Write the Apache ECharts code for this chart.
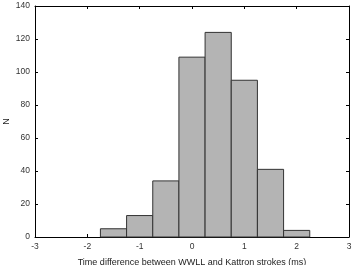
<!DOCTYPE html>
<html>
<head>
<meta charset="utf-8">
<script src="https://cdn.jsdelivr.net/npm/echarts@6/dist/echarts.min.js"></script>
<style>
  html, body { margin: 0; padding: 0; background: #fff; }
  #chart { width: 354px; height: 265px; }
</style>
</head>
<body>
<div id="chart"></div>
<script>
// bin edges (ms) and counts
var binStarts = [-1.75, -1.25, -0.75, -0.25, 0.25, 0.75, 1.25, 1.75];
var binWidth = 0.5;
var counts = [5, 13, 34, 109, 124, 95, 41, 4];

var xTitle = 'Time difference between WWLL and Kattron strokes (ms)';
var yTitle = 'N';

var chart = echarts.init(document.getElementById('chart'));

var data = binStarts.map(function (s, i) {
    return [s, s + binWidth, counts[i]];
});

var tickStyle = { show: true, inside: true, length: 3, lineStyle: { color: '#000', width: 1 } };
var lineStyle = { show: true, onZero: false, lineStyle: { color: '#000', width: 1 } };
var labelFont = { fontSize: 8.5, color: '#333', fontFamily: 'Liberation Sans' };
var nameFont = { fontSize: 9, color: '#222', fontFamily: 'Liberation Sans' };

var option = {
    animation: false,
    grid: { left: 35, right: 5, top: 6, bottom: 28, outerBoundsMode: 'none' },
    xAxis: [{
        type: 'value', min: -3, max: 3, interval: 1, position: 'bottom',
        axisLine: lineStyle, axisTick: tickStyle, splitLine: { show: false },
        axisLabel: Object.assign({ margin: 5 }, labelFont),
        name: xTitle, nameLocation: 'middle', nameGap: 21, nameMoveOverlap: false,
        nameTextStyle: nameFont
    }, {
        type: 'value', min: -3, max: 3, interval: 1, position: 'top',
        axisLine: lineStyle, axisTick: tickStyle, splitLine: { show: false },
        axisLabel: { show: false }
    }],
    yAxis: [{
        type: 'value', min: 0, max: 140, interval: 20, position: 'left',
        axisLine: lineStyle, axisTick: tickStyle, splitLine: { show: false },
        axisLabel: Object.assign({ margin: 5 }, labelFont),
        name: yTitle, nameLocation: 'middle', nameGap: 24, nameRotate: 90, nameMoveOverlap: false,
        nameTextStyle: nameFont
    }, {
        type: 'value', min: 0, max: 140, interval: 20, position: 'right',
        axisLine: lineStyle, axisTick: tickStyle, splitLine: { show: false },
        axisLabel: { show: false }
    }],
    series: [{
        type: 'custom',
        data: data,
        encode: { x: [0, 1], y: 2 },
        renderItem: function (params, api) {
            var p0 = api.coord([api.value(0), api.value(2)]);
            var p1 = api.coord([api.value(1), 0]);
            return {
                type: 'rect',
                shape: { x: p0[0], y: p0[1], width: p1[0] - p0[0], height: p1[1] - p0[1] },
                style: { fill: '#b4b4b4', stroke: '#333', lineWidth: 1 }
            };
        }
    }]
};

chart.setOption(option);
</script>
</body>
</html>
